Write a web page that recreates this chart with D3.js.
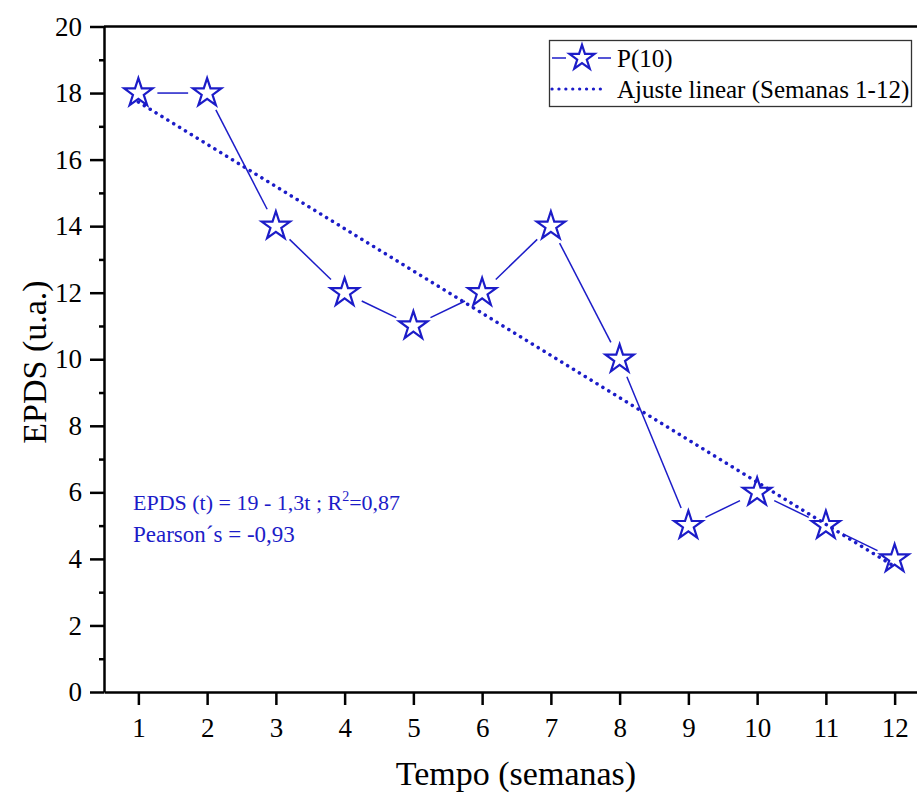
<!DOCTYPE html>
<html>
<head>
<meta charset="utf-8">
<script src="https://cdn.jsdelivr.net/npm/d3@7"></script>
<style>
  html, body { margin: 0; padding: 0; background: #fff; }
  svg, svg text { font-family: "Liberation Serif", "Times New Roman", serif; }
</style>
</head>
<body>
<svg id="chart" width="917" height="796"></svg>
<script>
// Weekly EPDS scores for participant P(10)
const weeks = [1, 2, 3, 4, 5, 6, 7, 8, 9, 10, 11, 12];
const epds = [18, 18, 14, 12, 11, 12, 14, 10, 5, 6, 5, 4];
const xTicks = [1, 2, 3, 4, 5, 6, 7, 8, 9, 10, 11, 12];
const yTicks = [0, 2, 4, 6, 8, 10, 12, 14, 16, 18, 20];
const yMinorTicks = [1, 3, 5, 7, 9, 11, 13, 15, 17, 19];
const seriesName = "P(10)";
const fitName = "Ajuste linear (Semanas 1-12)";

const blue = "#1c1cc8";
const serif = "'Liberation Serif', 'Times New Roman', serif";
const svg = d3.select("#chart");

const x = d3.scaleLinear().domain([0.5, 12.5]).range([104, 929]);
const y = d3.scaleLinear().domain([0, 20]).range([692, 26.5]);

// Least-squares fit over weeks 1-12
const mx = d3.mean(weeks), my = d3.mean(epds);
const sxy = d3.sum(weeks, (w, i) => (w - mx) * (epds[i] - my));
const sxx = d3.sum(weeks, w => (w - mx) ** 2);
const syy = d3.sum(epds, v => (v - my) ** 2);
const slope = sxy / sxx;
const intercept = my - slope * mx;
const pearson = sxy / Math.sqrt(sxx * syy);
const r2 = pearson * pearson;
const dec = (f, v) => d3.format(f)(v).replace(".", ",").replace("\u2212", "-");

// Frame: top border line
svg.append("line")
  .attr("x1", x(0.5)).attr("x2", x(12.5))
  .attr("y1", y(20)).attr("y2", y(20))
  .attr("stroke", "#000").attr("stroke-width", 2.5);

// Axes
const xAxis = svg.append("g")
  .attr("transform", `translate(0,${y(0)})`)
  .call(d3.axisBottom(x).tickValues(xTicks).tickFormat(d3.format("d"))
    .tickSize(13).tickSizeOuter(0).tickPadding(13));

const yMinor = svg.append("g")
  .attr("transform", `translate(${x(0.5)},0)`)
  .call(d3.axisLeft(y).tickValues(yMinorTicks).tickFormat("")
    .tickSize(5).tickSizeOuter(0));
yMinor.select(".domain").remove();

const yAxis = svg.append("g")
  .attr("transform", `translate(${x(0.5)},0)`)
  .call(d3.axisLeft(y).tickValues(yTicks).tickFormat(d3.format("d"))
    .tickSize(14).tickSizeOuter(0).tickPadding(8));

[xAxis, yAxis, yMinor].forEach(g => {
  g.attr("font-family", null).attr("font-size", null);
  g.selectAll("path, line").attr("stroke", "#000").attr("stroke-width", 2.5);
  g.selectAll("text").attr("fill", "#000")
    .style("font-family", serif).style("font-size", "27px");
});

// Axis titles
svg.append("text")
  .attr("x", 516).attr("y", 785)
  .attr("text-anchor", "middle").style("font-size", "34px")
  .text("Tempo (semanas)");
svg.append("text")
  .attr("transform", "translate(46,362) rotate(-90)")
  .attr("text-anchor", "middle").style("font-size", "34px")
  .text("EPDS (u.a.)");

// Linear fit (dotted)
svg.append("line")
  .attr("x1", x(weeks[0])).attr("y1", y(intercept + slope * weeks[0]))
  .attr("x2", x(weeks[weeks.length - 1])).attr("y2", y(intercept + slope * weeks[weeks.length - 1]))
  .attr("stroke", blue).attr("stroke-width", 3.5)
  .attr("stroke-linecap", "round").attr("stroke-dasharray", "0.1 6.8");

// Connecting segments, stopping short of each marker
const pts = weeks.map((w, i) => [x(w), y(epds[i])]);
const gap = 19;
const segs = d3.pairs(pts).map(([a, b]) => {
  const dx = b[0] - a[0], dy = b[1] - a[1];
  const len = Math.hypot(dx, dy);
  const ux = dx / len, uy = dy / len;
  return [a[0] + ux * gap, a[1] + uy * gap, b[0] - ux * gap, b[1] - uy * gap];
});
svg.append("g").selectAll("line").data(segs).join("line")
  .attr("x1", d => d[0]).attr("y1", d => d[1])
  .attr("x2", d => d[2]).attr("y2", d => d[3])
  .attr("stroke", blue).attr("stroke-width", 1.5);

// Star markers
const star = d3.symbol(d3.symbolStar, 250);
svg.append("g").selectAll("path").data(pts).join("path")
  .attr("transform", d => `translate(${d[0]},${d[1]})`)
  .attr("d", star)
  .attr("fill", "none").attr("stroke", blue).attr("stroke-width", 2.2)
  .attr("stroke-linejoin", "miter");

// Fit equation and correlation
const note = svg.append("g").attr("fill", blue).style("font-size", "22px");
const l1 = note.append("text").attr("x", 133).attr("y", 510);
l1.append("tspan").text(`EPDS (t) = ${dec(".0f", intercept)} - ${dec(".1f", Math.abs(slope))}t ; R`);
l1.append("tspan").style("font-size", "14px").attr("dy", -9).text("2");
l1.append("tspan").attr("dy", 9).text(`=${dec(".2f", r2)}`);
note.append("text").attr("x", 133).attr("y", 542)
  .style("font-size", "23px")
  .text(`Pearson\u00B4s = ${dec(".2f", pearson)}`);

// Legend
const lg = svg.append("g");
lg.append("rect")
  .attr("x", 549.5).attr("y", 40.5).attr("width", 362).attr("height", 66)
  .attr("fill", "#fff").attr("stroke", "#333").attr("stroke-width", 1.3);
lg.append("line").attr("x1", 552).attr("x2", 566).attr("y1", 58).attr("y2", 58)
  .attr("stroke", blue).attr("stroke-width", 1.5);
lg.append("line").attr("x1", 598).attr("x2", 611).attr("y1", 58).attr("y2", 58)
  .attr("stroke", blue).attr("stroke-width", 1.5);
lg.append("path").attr("transform", "translate(582,58)")
  .attr("d", d3.symbol(d3.symbolStar, 195))
  .attr("fill", "none").attr("stroke", blue).attr("stroke-width", 2.2);
lg.append("text").attr("x", 617).attr("y", 67).style("font-size", "25px").text(seriesName);
lg.append("line").attr("x1", 552).attr("x2", 607).attr("y1", 89).attr("y2", 89)
  .attr("stroke", blue).attr("stroke-width", 3.2)
  .attr("stroke-linecap", "round").attr("stroke-dasharray", "0.1 6.8");
lg.append("text").attr("x", 617).attr("y", 98).style("font-size", "25px").text(fitName);
</script>
</body>
</html>
